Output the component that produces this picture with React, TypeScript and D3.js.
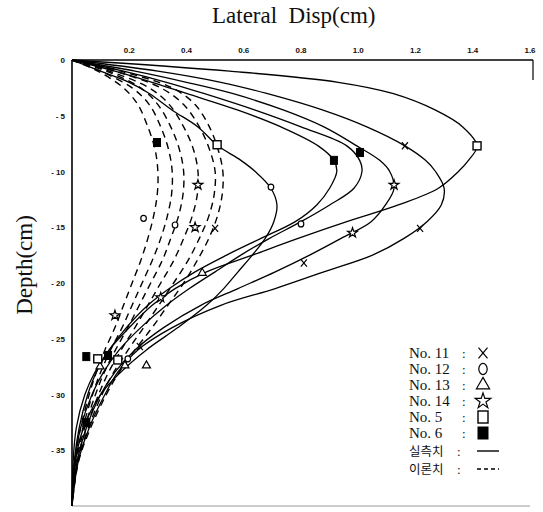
import React from 'react';
import * as d3 from 'd3';

const W = 543;
const H = 512;

// axis ticks
const xTicks = [0.2, 0.4, 0.6, 0.8, 1.0, 1.2, 1.4, 1.6];
const xTickLabels = ['0.2', '0.4', '0.6', '0.8', '1.0', '1.2', '1.4', '1.6'];
const yTicks = [0, -5, -10, -15, -20, -25, -30, -35];
const yTickLabels = ['0', '- 5', '- 10', '- 15', '- 20', '- 25', '- 30', '- 35'];

// measured (solid) curves: depth grid and displacement values
const solidDepths = [0, -1, -2, -3, -4.5, -6, -7.7, -9, -10, -11.5, -13, -14.5, -16, -17.5, -19, -20.5, -22, -24, -26, -28, -30, -33, -36, -40];
const solidA = [0, 0.55, 0.93, 1.12, 1.27, 1.365, 1.415, 1.385, 1.35, 1.28, 1.14, 0.96, 0.79, 0.63, 0.47, 0.36, 0.28, 0.2, 0.13, 0.08, 0.045, 0.015, 0.004, 0];
const solidB = [0, 0.3, 0.52, 0.68, 0.877, 1.03, 1.163, 1.235, 1.27, 1.3, 1.29, 1.24, 1.16, 1.05, 0.88, 0.71, 0.52, 0.35, 0.23, 0.16, 0.115, 0.06, 0.022, 0];
const solidC = [0, 0.22, 0.4, 0.56, 0.74, 0.88, 0.995, 1.075, 1.11, 1.125, 1.095, 1.045, 0.94, 0.83, 0.71, 0.58, 0.45, 0.32, 0.22, 0.15, 0.1, 0.05, 0.018, 0];
const solidD = [0, 0.18, 0.33, 0.46, 0.64, 0.8, 0.96, 1.005, 1.013, 0.985, 0.9, 0.8, 0.69, 0.59, 0.5, 0.41, 0.33, 0.24, 0.165, 0.11, 0.07, 0.03, 0.01, 0];
const solidE = [0, 0.15, 0.28, 0.4, 0.58, 0.73, 0.86, 0.915, 0.925, 0.9, 0.855, 0.78, 0.66, 0.54, 0.43, 0.34, 0.265, 0.19, 0.13, 0.085, 0.055, 0.025, 0.008, 0];
const solidF = [0, 0.1, 0.2, 0.27, 0.35, 0.44, 0.51, 0.59, 0.64, 0.695, 0.716, 0.705, 0.675, 0.63, 0.58, 0.53, 0.47, 0.37, 0.26, 0.17, 0.1, 0.04, 0.012, 0];

// theoretical (dashed) curves
const dashDepths = [0, -1, -2.5, -4, -6, -8, -10, -12, -14, -16, -18, -20, -22, -24, -26, -28, -30, -33, -36, -40];
const dashT1 = [0, 0.09, 0.18, 0.23, 0.265, 0.29, 0.3, 0.298, 0.285, 0.265, 0.24, 0.21, 0.18, 0.15, 0.115, 0.085, 0.06, 0.03, 0.01, 0];
const dashT2 = [0, 0.1, 0.21, 0.27, 0.31, 0.337, 0.35, 0.348, 0.333, 0.31, 0.28, 0.245, 0.21, 0.175, 0.135, 0.1, 0.072, 0.038, 0.013, 0];
const dashT3 = [0, 0.12, 0.24, 0.3, 0.345, 0.375, 0.39, 0.388, 0.372, 0.345, 0.315, 0.275, 0.235, 0.195, 0.152, 0.113, 0.082, 0.044, 0.015, 0];
const dashT4 = [0, 0.13, 0.27, 0.34, 0.39, 0.424, 0.44, 0.438, 0.42, 0.39, 0.355, 0.31, 0.265, 0.22, 0.172, 0.128, 0.093, 0.05, 0.018, 0];
const dashT5 = [0, 0.15, 0.31, 0.39, 0.445, 0.48, 0.5, 0.497, 0.478, 0.445, 0.405, 0.355, 0.303, 0.25, 0.196, 0.146, 0.105, 0.057, 0.02, 0];
const dashT6 = [0, 0.17, 0.35, 0.43, 0.48, 0.51, 0.527, 0.525, 0.508, 0.478, 0.437, 0.39, 0.335, 0.28, 0.22, 0.165, 0.12, 0.065, 0.023, 0];

// markers [disp, depth] per legend series
const markersNo11 = [[1.163, -7.7], [1.216, -15.1], [0.81, -18.2], [0.5, -15.1], [0.237, -25.7]];
const markersNo12 = [[0.695, -11.4], [0.8, -14.7], [0.25, -14.2], [0.36, -14.8], [0.195, -26.8]];
const markersNo13 = [[0.455, -19.1], [0.098, -27.5], [0.185, -27.4], [0.26, -27.4]];
const markersNo14 = [[1.125, -11.2], [0.98, -15.5], [0.44, -11.2], [0.43, -15.0], [0.31, -21.3], [0.15, -22.9]];
const markersNo5 = [[1.415, -7.7], [0.507, -7.6], [0.09, -26.8], [0.16, -26.9]];
const markersNo6 = [[1.006, -8.3], [0.915, -9.0], [0.297, -7.4], [0.05, -26.6], [0.126, -26.5], [0.05, -32.5]];

const legendLabels = ['No. 11', 'No. 12', 'No. 13', 'No. 14', 'No. 5', 'No. 6'];
const legendShapes = ['x', 'circle', 'triangle', 'star', 'square', 'filled'];
const lineLegendLabels = ['실측치', '이론치'];

const x = d3.scaleLinear().domain([0, 1.6]).range([72, 530]);
const y = d3.scaleLinear().domain([0, -40]).range([60, 506]);

const lineGen = d3
  .line<[number, number]>()
  .x((d) => x(d[0]))
  .y((d) => y(d[1]))
  .curve(d3.curveCatmullRom.alpha(0.5));

function toPts(vals: number[], depths: number[]): [number, number][] {
  return vals.map((v, i) => [v, depths[i]] as [number, number]);
}

function Marker({ shape, cx, cy, big }: { shape: string; cx: number; cy: number; big?: boolean }) {
  const k = big ? 1.5 : 1;
  const sw = 1.2;
  if (shape === 'x') {
    const s = 3 * k;
    return (
      <g stroke="#000" strokeWidth={sw}>
        <line x1={cx - s} y1={cy - s * 1.2} x2={cx + s} y2={cy + s * 1.2} />
        <line x1={cx + s} y1={cy - s * 1.2} x2={cx - s} y2={cy + s * 1.2} />
      </g>
    );
  }
  if (shape === 'circle') {
    return <ellipse cx={cx} cy={cy} rx={2.8 * k} ry={3 * k * (big ? 1.25 : 1)} fill="#fff" stroke="#000" strokeWidth={sw} />;
  }
  if (shape === 'triangle') {
    const p = d3.symbol(d3.symbolTriangle, big ? 75 : 28)();
    return <path d={p || ''} transform={`translate(${cx},${cy})`} fill="#fff" stroke="#000" strokeWidth={sw} />;
  }
  if (shape === 'star') {
    const p = d3.symbol(d3.symbolStar, big ? 75 : 30)();
    return <path d={p || ''} transform={`translate(${cx},${cy})`} fill="#fff" stroke="#000" strokeWidth={sw} />;
  }
  if (shape === 'square') {
    const w = big ? 10 : 8;
    const h = big ? 12 : 8;
    return <rect x={cx - w / 2} y={cy - h / 2} width={w} height={h} fill="#fff" stroke="#000" strokeWidth={1.4} />;
  }
  const w = big ? 10 : 7;
  const h = big ? 12 : 8;
  return <rect x={cx - w / 2} y={cy - h / 2} width={w} height={h} fill="#000" stroke="#000" strokeWidth={1} />;
}

export default function App() {
  const solids = [solidA, solidB, solidC, solidD, solidE, solidF];
  const dashes = [dashT1, dashT2, dashT3, dashT4, dashT5, dashT6];
  const markerSets = [markersNo11, markersNo12, markersNo13, markersNo14, markersNo5, markersNo6];

  const legendX = 409;
  const legendY0 = 358;
  const rowH = 16;

  return (
    <svg
      width={W}
      height={H}
      viewBox={`0 0 ${W} ${H}`}
      style={{ position: 'absolute', left: 0, top: 0, background: '#fff' }}
    >
      <rect x={0} y={0} width={W} height={H} fill="#fff" />

      {/* title */}
      <text x={212} y={23} fontFamily="'Liberation Serif', 'DejaVu Serif', serif" fontSize={23} fill="#111" style={{ whiteSpace: 'pre' }}>
        {'Lateral  Disp(cm)'}
      </text>
      <text
        transform={`translate(32,265) rotate(-90)`}
        textAnchor="middle"
        fontFamily="'Liberation Serif', 'DejaVu Serif', serif"
        fontSize={23}
        fill="#111"
      >
        Depth(cm)
      </text>

      {/* frame */}
      <line x1={x(0)} y1={y(0)} x2={x(1.6) + 3} y2={y(0)} stroke="#000" strokeWidth={1.6} />
      <line x1={x(0)} y1={y(0)} x2={x(0)} y2={y(-40)} stroke="#000" strokeWidth={1.6} />
      <line x1={x(0)} y1={y(-40)} x2={x(1.6)} y2={y(-40)} stroke="#999" strokeWidth={1} />
      <line x1={x(1.6) + 3} y1={y(0)} x2={x(1.6) + 3} y2={y(0) + 20} stroke="#000" strokeWidth={1.2} />

      {/* tick labels */}
      {xTicks.map((t, i) => (
        <text key={'xt' + i} x={x(t)} y={53} textAnchor="middle" fontFamily="'Liberation Sans', Arial, sans-serif" fontWeight="bold" fontSize={8} fill="#111">
          {xTickLabels[i]}
        </text>
      ))}
      {yTicks.map((t, i) => (
        <text key={'yt' + i} x={65} y={y(t) + 3} textAnchor="end" fontFamily="'Liberation Sans', Arial, sans-serif" fontWeight="bold" fontSize={8} fill="#111">
          {yTickLabels[i]}
        </text>
      ))}

      {/* theoretical curves */}
      {dashes.map((vals, i) => (
        <path
          key={'d' + i}
          d={lineGen(toPts(vals, dashDepths)) || ''}
          fill="none"
          stroke="#000"
          strokeWidth={1.4}
          strokeDasharray="7 5"
        />
      ))}

      {/* measured curves */}
      {solids.map((vals, i) => (
        <path key={'s' + i} d={lineGen(toPts(vals, solidDepths)) || ''} fill="none" stroke="#000" strokeWidth={1.3} />
      ))}

      {/* markers */}
      {markerSets.map((set, si) =>
        set.map((p, pi) => <Marker key={`m${si}-${pi}`} shape={legendShapes[si]} cx={x(p[0])} cy={y(p[1])} />)
      )}

      {/* legend */}
      {legendLabels.map((lab, i) => {
        const by = legendY0 + i * rowH;
        return (
          <g key={'lg' + i}>
            <text x={legendX} y={by} fontFamily="'Liberation Serif', 'DejaVu Serif', serif" fontSize={15} fill="#111">
              {lab}
            </text>
            <text x={462} y={by} fontFamily="'Liberation Serif', serif" fontSize={13} fill="#111">
              :
            </text>
            <Marker shape={legendShapes[i]} cx={483} cy={by - 5} big />
          </g>
        );
      })}
      {lineLegendLabels.map((lab, i) => {
        const by = legendY0 + 6 * rowH + 2 + i * 18;
        return (
          <g key={'ll' + i}>
            <text x={legendX} y={by} fontFamily="'Noto Sans CJK KR', sans-serif" fontSize={12.5} fill="#111">
              {lab}
            </text>
            <text x={457} y={by} fontFamily="'Liberation Serif', serif" fontSize={13} fill="#111">
              :
            </text>
            <line
              x1={477}
              x2={499}
              y1={by - 5}
              y2={by - 5}
              stroke="#000"
              strokeWidth={1.4}
              strokeDasharray={i === 1 ? '4 3' : undefined}
            />
          </g>
        );
      })}
    </svg>
  );
}
